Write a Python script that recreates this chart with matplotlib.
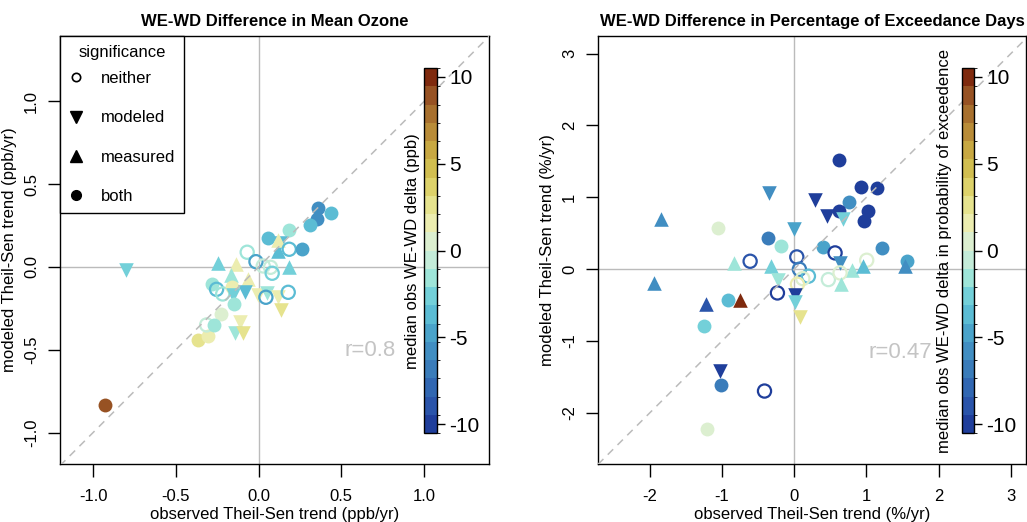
import numpy as np
import matplotlib
matplotlib.use('Agg')
import matplotlib.pyplot as plt
from matplotlib.colors import ListedColormap, BoundaryNorm
from matplotlib.lines import Line2D
import matplotlib.cm as cm

plt.rcParams['font.family'] = ['Liberation Sans', 'DejaVu Sans']

# ---- data: mean ozone panel ----
obs1 = [0.356, 0.435, 0.354, 0.31, 0.185, 0.058, 0.13, 0.12, 0.115, 0.185, 0.261,
        -0.069, -0.016, -0.248, -0.137, 0.028, 0.072, 0.082, 0.185, -0.169, -0.066,
        -0.284, -0.254, -0.217, -0.163, -0.153, -0.083, -0.002, 0.052, 0.044, 0.118,
        0.179, -0.149, 0.135, -0.228, -0.80, -0.928, -0.365, -0.304, -0.314, -0.27,
        -0.113, -0.143, -0.097]
mod1 = [0.354, 0.328, 0.288, 0.254, 0.223, 0.177, 0.147, 0.098, 0.16, 0.107, 0.108,
        0.089, 0.032, 0.026, 0.018, 0.006, -0.002, -0.038, -0.002, -0.048, -0.072,
        -0.103, -0.135, -0.163, -0.123, -0.169, -0.149, -0.169, -0.159, -0.183, -0.179,
        -0.153, -0.223, -0.26, -0.284, -0.02, -0.831, -0.441, -0.417, -0.35, -0.35,
        -0.33, -0.40, -0.397]
sig1 = ['both', 'both', 'both', 'both', 'both', 'both', 'modeled', 'measured', 'measured',
        'neither', 'both', 'neither', 'neither', 'measured', 'measured', 'neither',
        'neither', 'neither', 'measured', 'measured', 'measured', 'both', 'neither',
        'neither', 'both', 'modeled', 'modeled', 'modeled', 'modeled', 'neither',
        'modeled', 'neither', 'both', 'modeled', 'both', 'modeled', 'both', 'both',
        'both', 'neither', 'both', 'modeled', 'modeled', 'modeled']
delta1 = [-5.5, -3.5, -5.5, -4, -1.5, -3.5, -3.5, -3.5, 1.5, -4, -5, -1.5, -5, -3,
          1.5, -1, -1, -3, -3, -2, 2, -1.5, -3.5, -1.5, 2, -2.5, -3.5, 1.5, -2, -4.5,
          2, -3.5, -1.5, 2.5, 1, -2.5, 9, 3, 1.5, -1, -2, 1.5, -2, 2.5]

# ---- data: exceedance days panel ----
obs2 = [0.618, 0.922, 1.143, 0.765, 0.29, -0.341, 1.019, 0.461, 0.627, 0.682, 0.973,
        -1.06, -1.844, 0.005, -0.364, -0.184, 0.406, 1.22, 0.567, 0.037, -0.609, 0.636,
        -0.826, -0.318, 1.005, 1.558, 1.535, 0.798, 0.95, 0.073, 0.198, 0.12, 0.046,
        0.474, 0.636, 0.646, -1.936, -0.217, -0.231, 0.014, 0.014, 0.083, -1.217,
        -0.922, -0.747, -1.254, -1.024, -1.01, -0.41, -1.207]
mod2 = [1.518, 1.146, 1.13, 0.938, 0.96, 1.054, 0.812, 0.738, 0.808, 0.696, 0.669,
        0.567, 0.696, 0.553, 0.441, 0.32, 0.311, 0.302, 0.227, 0.171, 0.111, 0.088,
        0.088, 0.042, 0.125, 0.116, 0.042, -0.014, 0.042, 0.0, -0.097, -0.13, -0.209,
        -0.144, -0.051, -0.209, -0.19, -0.153, -0.33, -0.353, -0.455, -0.664, -0.478,
        -0.422, -0.432, -0.79, -1.42, -1.616, -1.695, -2.219]
sig2 = ['both', 'both', 'both', 'both', 'modeled', 'modeled', 'both', 'modeled', 'both',
        'modeled', 'both', 'both', 'measured', 'modeled', 'both', 'both', 'both', 'both',
        'neither', 'neither', 'neither', 'modeled', 'measured', 'measured', 'neither',
        'both', 'measured', 'measured', 'measured', 'neither', 'neither', 'neither',
        'neither', 'neither', 'neither', 'measured', 'measured', 'modeled', 'neither',
        'modeled', 'modeled', 'modeled', 'measured', 'both', 'measured', 'both',
        'modeled', 'both', 'neither', 'both']
delta2 = [-10, -10, -10, -6, -10, -6, -10, -10, -10, -3, -10, 0.5, -6, -4.5, -7, -1.5,
          -5, -5.5, -10, -9, -9, -6, -1.5, -3, 1, -5, -6, -1.5, -3.5, -7, -4, 1, 1.5,
          -1, 1, -1.5, -6, -1.5, -10, -10, -3, 2.5, -9, -4, 9.5, -3, -10, -7, -10, 0.5]

band_colors = ['#1f3e9b', '#2a54aa', '#3167b2', '#3a7cba', '#418ec2', '#4aa3ca',
               '#5bbcd4', '#73d0d9', '#9ee5d9', '#c4ecd9', '#dcefd0', '#ecedb0',
               '#e6e38e', '#ddd26a', '#d1be50', '#c8a842', '#b98c38', '#a8702e',
               '#975223', '#7f2a0e']
cmap = ListedColormap(band_colors)
bounds = np.linspace(-10.5, 10.5, 21)
norm = BoundaryNorm(bounds, cmap.N)

markers = {'neither': 'o', 'modeled': 'v', 'measured': '^', 'both': 'o'}

W, H = 1027, 522
fig = plt.figure(figsize=(W / 100, H / 100), dpi=100)


def px_axes(x0, y0, x1, y1):
    return fig.add_axes([x0 / W, 1 - y1 / H, (x1 - x0) / W, (y1 - y0) / H])


def panel(ax, obs, mod, sig, delta, xlim, ylim, xticks, yticks, fmt):
    ax.axhline(0, color='#bbbbbb', lw=1, zorder=1)
    ax.axvline(0, color='#bbbbbb', lw=1, zorder=1)
    for o, m, s, d in zip(obs, mod, sig, delta):
        c = cmap(norm(d))
        if s == 'neither':
            ax.scatter(o, m, s=90, marker='o', facecolors='none', edgecolors=[c],
                       linewidths=1.6, zorder=3)
        else:
            sz = 110 if s != 'both' else 100
            ax.scatter(o, m, s=sz, marker=markers[s], color=[c], linewidths=0, zorder=3)
    lo = min(xlim[0], ylim[0])
    hi = max(xlim[1], ylim[1])
    ax.plot([lo, hi], [lo, hi], ls=(0, (5, 4)), color='#bbbbbb', lw=1.1, zorder=4)
    ax.set_xlim(xlim)
    ax.set_ylim(ylim)
    ax.set_xticks(xticks)
    ax.set_yticks(yticks)
    ax.set_xticklabels([fmt.format(v) for v in xticks])
    ax.set_yticklabels([fmt.format(v) for v in yticks], rotation=90, va='center')
    ax.tick_params(direction='out', length=9, width=1, labelsize=12)
    ax.tick_params(axis='x', pad=9)
    ax.tick_params(axis='y', pad=6)
    for sp in ax.spines.values():
        sp.set_linewidth(1)


# left panel
ax1 = px_axes(60, 36, 489, 464)
panel(ax1, obs1, mod1, sig1, delta1, (-1.2, 1.392), (-1.19, 1.395),
      [-1.0, -0.5, 0.0, 0.5, 1.0], [-1.0, -0.5, 0.0, 0.5, 1.0], '{:.1f}')
ax1.set_title('WE-WD Difference in Mean Ozone', fontsize=12, fontweight='bold', pad=7)
ax1.set_xlabel('observed Theil-Sen trend (ppb/yr)', fontsize=12, labelpad=2)
ax1.set_ylabel('modeled Theil-Sen trend (ppb/yr)', fontsize=12, labelpad=5)
ax1.text(0.672, -0.507, 'r=0.8', color='#c4c4c4', fontsize=16, ha='center', va='center')

handles = [Line2D([], [], ls='none', marker='o', markerfacecolor='none',
                  markeredgecolor='black', markersize=6, markeredgewidth=1.2),
           Line2D([], [], ls='none', marker='v', color='black', markersize=9),
           Line2D([], [], ls='none', marker='^', color='black', markersize=9),
           Line2D([], [], ls='none', marker='o', color='black', markersize=7)]
leg = ax1.legend(handles, ['neither', 'modeled', 'measured', 'both'], title='significance',
                 loc='upper left', borderaxespad=0, fontsize=12, title_fontsize=12,
                 labelspacing=1.45, handletextpad=1.1, handlelength=0.8,
                 borderpad=0.55, fancybox=False, framealpha=1, edgecolor='black')
leg._legend_box.sep = 8
leg.get_frame().set_linewidth(1)
leg.set_zorder(10)

# right panel
ax2 = px_axes(598, 36, 1026, 464)
panel(ax2, obs2, mod2, sig2, delta2, (-2.715, 3.21), (-2.71, 3.245),
      [-2, -1, 0, 1, 2, 3], [-2, -1, 0, 1, 2, 3], '{:d}')
ax2.set_title('WE-WD Difference in Percentage of Exceedance Days', fontsize=12,
              fontweight='bold', pad=7)
ax2.set_xlabel('observed Theil-Sen trend (%/yr)', fontsize=12, labelpad=2)
ax2.set_ylabel('modeled Theil-Sen trend (%/yr)', fontsize=12, labelpad=5)
ax2.text(1.466, -1.156, 'r=0.47', color='#c4c4c4', fontsize=16, ha='center', va='center')

# colorbars
sm = cm.ScalarMappable(norm=norm, cmap=cmap)
for (x0, x1, lx, label) in [(424, 437, 412, 'median obs WE-WD delta (ppb)'),
                            (962, 974, 944, 'median obs WE-WD delta in probability of exceedence')]:
    cax = px_axes(x0, 68, x1, 433)
    cb = fig.colorbar(sm, cax=cax, ticks=[-10, -5, 0, 5, 10], drawedges=False)
    cb.outline.set_linewidth(1)
    cb.ax.tick_params(labelsize=15, length=6, width=1, pad=3)
    cb.ax.set_yticklabels(['-10', '-5', '0', '5', '10'])
    fig.text(lx / W, 1 - 251 / H, label, rotation=90, ha='center', va='center', fontsize=12)

fig.savefig('out.png', dpi=100)
